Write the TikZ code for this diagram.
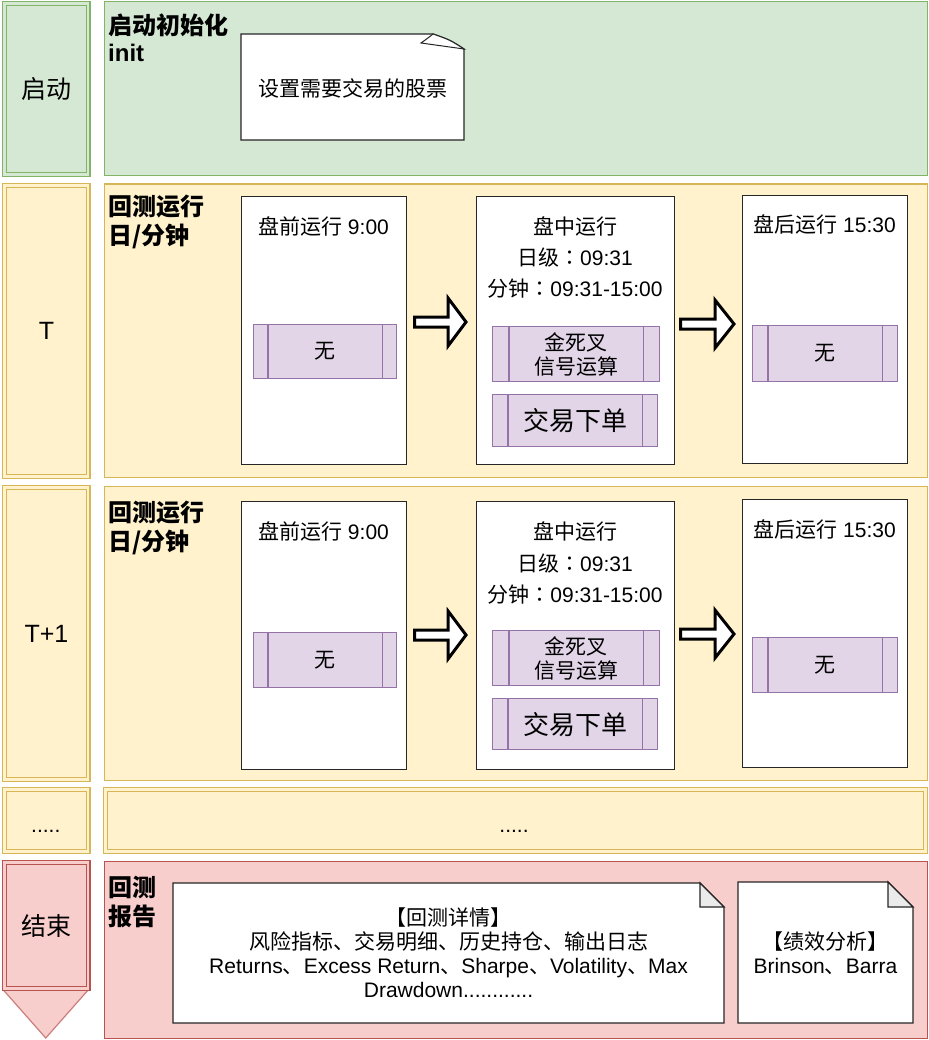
\documentclass[tikz,border=0pt]{standalone}
\usepackage{fontspec}
\setmainfont{Liberation Sans}
\newfontfamily\cjk{Noto Sans CJK SC}
\newfontfamily\cjktc{Noto Sans CJK TC}
\newcommand\zh[1]{{\cjk #1}}
\newcommand\zcolon{{\cjktc ：}}
\definecolor{gfill}{HTML}{D5E8D4}
\definecolor{gline}{HTML}{82B366}
\definecolor{yfill}{HTML}{FFF2CC}
\definecolor{yline}{HTML}{D6B656}
\definecolor{rfill}{HTML}{F8CECC}
\definecolor{rline}{HTML}{B85450}
\definecolor{pfill}{HTML}{E1D5E7}
\definecolor{pline}{HTML}{9673A6}
\definecolor{foldgray}{HTML}{EBEBEB}
\definecolor{edge}{HTML}{262626}
\newcommand\procbars[2]{%
  \draw[procbar] ([xshift=#2pt]#1.north west) -- ([xshift=#2pt]#1.south west);
  \draw[procbar] ([xshift=-#2pt]#1.north east) -- ([xshift=-#2pt]#1.south east);}
\newcommand\blockarrow[4]{%
  \draw[bigarrow] (#1,#4-5) -- (#3,#4-5) -- (#3,#4-24) -- (#2,#4) -- (#3,#4+24) -- (#3,#4+5) -- (#1,#4+5) -- cycle;}
\begin{document}
\begin{tikzpicture}[x=1pt,y=-1pt,
  txt/.style={inner sep=0, font=\fontsize{21}{24}\selectfont, align=center},
  big/.style={inner sep=0, font=\fontsize{25}{28}\selectfont},
  ttl/.style={inner sep=0, anchor=base west, font=\bfseries\fontsize{24}{28}\selectfont},
  lanebox/.style={line width=1.3pt, anchor=north west, inner sep=0},
  dbl/.style={line width=1.3pt, double distance=2.4pt, anchor=north west, inner sep=0},
  stagebox/.style={draw=edge, fill=white, line width=1.3pt, anchor=north west, inner sep=0},
  procbox/.style={draw=pline, fill=pfill, line width=1.2pt, anchor=north west, inner sep=0, align=center, font=\fontsize{21}{24}\selectfont},
  procbar/.style={draw=pline, line width=1.2pt},
  bigarrow/.style={draw=black, fill=white, line width=3pt, line join=miter},
  noteline/.style={draw=edge, line width=1.3pt},
]
\useasboundingbox[fill=white] (0,0) rectangle (928,1040);

% ---------- left column ----------
\node[dbl, draw=gline, double=gfill, fill=gfill, minimum width=83.5pt, minimum height=171pt, big] (l0) at (4,3) {\zh{启动}};
\node[dbl, draw=yline, double=yfill, fill=yfill, minimum width=83.5pt, minimum height=291pt, big] (l1) at (4,185) {T};
\node[dbl, draw=yline, double=yfill, fill=yfill, minimum width=83.5pt, minimum height=292pt, big] (l2) at (4,487) {T+1};
\node[dbl, draw=yline, double=yfill, fill=yfill, minimum width=83.5pt, minimum height=62pt] (l3) at (4,789) {};
\node[txt, anchor=base] (l3t) at (45.75,832) {.....};
\path[fill=rfill] (2.5,989) -- (89,989) -- (45.75,1038) -- cycle;
\draw[draw=rline!75, line width=1.2pt] (2.5,989) -- (45.75,1038) -- (89,989);
\node[dbl, draw=rline, double=rfill, fill=rfill, minimum width=83.5pt, minimum height=126pt, big] (l4) at (4,862) {\zh{结束}};

% ---------- right panels ----------
\node[lanebox, draw=gline, fill=gfill, minimum width=823pt, minimum height=174pt] (p0) at (103.5,1) {};
\node[lanebox, draw=yline, fill=yfill, minimum width=823pt, minimum height=293.5pt] (p1) at (103.5,183.5) {};
\node[lanebox, draw=yline, fill=yfill, minimum width=823pt, minimum height=294.5pt] (p2) at (103.5,485.5) {};
\node[dbl, draw=yline, double=yfill, fill=yfill, minimum width=820pt, minimum height=62pt] (p3) at (105,789) {};
\node[txt, anchor=base] (p3t) at (514,832) {.....};
\node[lanebox, draw=rline, fill=rfill, minimum width=823pt, minimum height=177.5pt] (p4) at (103.5,860.5) {};

% ---------- titles ----------
\node[ttl] (h0a) at (108,35) {\zh{启动初始化}};
\node[ttl] (h0b) at (108,62) {init};
\node[ttl] (h1a) at (108,216) {\zh{回测运行}};
\node[ttl] (h1b) at (108,245) {\zh{日/分钟}};
\node[ttl] (h2a) at (108,521) {\zh{回测运行}};
\node[ttl] (h2b) at (108,550) {\zh{日/分钟}};
\node[ttl] (h3a) at (108,896) {\zh{回测}};
\node[ttl] (h3b) at (108,925) {\zh{报告}};

% ---------- startup card ----------
\filldraw[noteline, fill=white] (241,34) -- (433,34) .. controls (450,40) .. (464,49) -- (464,140) -- (241,140) -- cycle;
\filldraw[fill=white, draw=edge, line width=1pt] (433,34) .. controls (428,38) .. (421,43) -- (464,49) .. controls (450,40) .. (433,34) -- cycle;
\node[txt] (card) at (353,88) {\zh{设置需要交易的股票}};

% ---------- row T ----------
\node[stagebox, minimum width=165pt, minimum height=268pt] (a1) at (241,196) {};
\node[stagebox, minimum width=198pt, minimum height=268pt] (a2) at (476,196) {};
\node[stagebox, minimum width=165pt, minimum height=268pt] (a3) at (742,195) {};
\node[txt, anchor=base] (a1t) at (323.5,235) {\zh{盘前运行} 9:00};
\node[txt, anchor=base] (a2t) at (575,235) {\zh{盘中运行}};
\node[txt, anchor=base] (a2u) at (575,266) {\zh{日级}\zcolon 09:31};
\node[txt, anchor=base] (a2v) at (575,297) {\zh{分钟}\zcolon 09:31-15:00};
\node[txt, anchor=base] (a3t) at (824.5,233) {\zh{盘后运行} 15:30};
\node[procbox, minimum width=143pt, minimum height=54pt] (ap1) at (253,324) {\zh{无}};
\procbars{ap1}{15}
\node[procbox, minimum width=167pt, minimum height=55pt] (ap2) at (492,326) {\zh{金死叉}\\\zh{信号运算}};
\procbars{ap2}{17}
\node[procbox, minimum width=165pt, minimum height=52pt, font=\fontsize{26}{28}\selectfont] (ap3) at (492,394) {\zh{交易下单}};
\procbars{ap3}{16}
\node[procbox, minimum width=145pt, minimum height=56pt] (ap4) at (752,325) {\zh{无}};
\procbars{ap4}{16}
\blockarrow{414.5}{466}{448}{322}
\blockarrow{680.5}{734}{715}{324}

% ---------- row T+1 ----------
\node[stagebox, minimum width=165pt, minimum height=268pt] (b1) at (241,501) {};
\node[stagebox, minimum width=198pt, minimum height=268pt] (b2) at (476,501) {};
\node[stagebox, minimum width=165pt, minimum height=268pt] (b3) at (742,499) {};
\node[txt, anchor=base] (b1t) at (323.5,539) {\zh{盘前运行} 9:00};
\node[txt, anchor=base] (b2t) at (575,539) {\zh{盘中运行}};
\node[txt, anchor=base] (b2u) at (575,571) {\zh{日级}\zcolon 09:31};
\node[txt, anchor=base] (b2v) at (575,602) {\zh{分钟}\zcolon 09:31-15:00};
\node[txt, anchor=base] (b3t) at (824.5,537) {\zh{盘后运行} 15:30};
\node[procbox, minimum width=143pt, minimum height=55pt] (bp1) at (253,632) {\zh{无}};
\procbars{bp1}{15}
\node[procbox, minimum width=167pt, minimum height=55pt] (bp2) at (492,630) {\zh{金死叉}\\\zh{信号运算}};
\procbars{bp2}{17}
\node[procbox, minimum width=165pt, minimum height=51pt, font=\fontsize{26}{28}\selectfont] (bp3) at (492,698) {\zh{交易下单}};
\procbars{bp3}{16}
\node[procbox, minimum width=145pt, minimum height=55pt] (bp4) at (752,637) {\zh{无}};
\procbars{bp4}{16}
\blockarrow{414.5}{466}{448}{635}
\blockarrow{680.5}{734}{715}{634}

% ---------- report notes ----------
\filldraw[noteline, fill=white] (173,883) -- (700,883) -- (724,907) -- (724,1023) -- (173,1023) -- cycle;
\filldraw[noteline, fill=foldgray] (700,883) -- (700,907) -- (724,907) -- cycle;
\node[txt] (n1) at (448.5,953) {\zh{【回测详情】}\\\zh{风险指标、交易明细、历史持仓、输出日志}\\Returns\zh{、}Excess Return\zh{、}Sharpe\zh{、}Volatility\zh{、}Max\\Drawdown............};
\filldraw[noteline, fill=white] (738,882) -- (888,882) -- (913,907) -- (913,1023) -- (738,1023) -- cycle;
\filldraw[noteline, fill=foldgray] (888,882) -- (888,907) -- (913,907) -- cycle;
\node[txt] (n2) at (825.5,953) {\zh{【绩效分析】}\\Brinson\zh{、}Barra};
\end{tikzpicture}
\end{document}
